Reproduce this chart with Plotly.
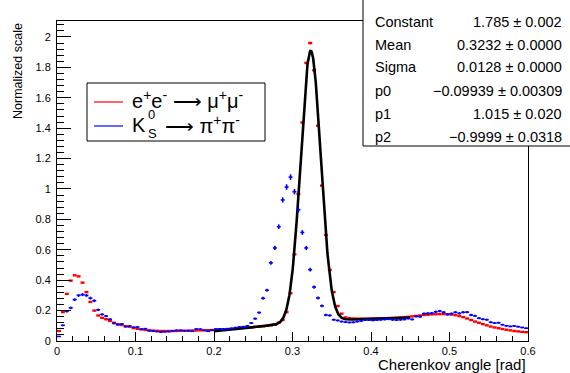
import numpy as np
import plotly.graph_objects as go

# ---- binned data: 120 bins of width 0.005 rad on [0, 0.6] ----
bin_width = 0.005
n_bins = 120
bin_centers = [round(bin_width * (i + 0.5), 4) for i in range(n_bins)]

# e+e- -> mu+mu-  (normalized)
mumu = [
    0.066, 0.19, 0.31, 0.397, 0.432, 0.425, 0.384, 0.322, 0.257, 0.20,
    0.168, 0.152, 0.143, 0.132, 0.12, 0.11, 0.105, 0.097, 0.094, 0.085,
    0.08, 0.076, 0.073, 0.07, 0.068, 0.067, 0.066, 0.066, 0.066, 0.066,
    0.066, 0.067, 0.067, 0.068, 0.069, 0.069, 0.07, 0.07, 0.071, 0.072,
    0.072, 0.074, 0.076, 0.078, 0.08, 0.082, 0.084, 0.086, 0.088, 0.09,
    0.093, 0.095, 0.098, 0.1, 0.103, 0.107, 0.12, 0.138, 0.19, 0.314,
    0.570, 0.967, 1.437, 1.829, 1.960, 1.781, 1.416, 1.022, 0.697, 0.467,
    0.322, 0.23, 0.18, 0.155, 0.15, 0.148, 0.147, 0.147, 0.147, 0.147,
    0.148, 0.148, 0.149, 0.15, 0.151, 0.152, 0.153, 0.155, 0.157, 0.159,
    0.162, 0.165, 0.168, 0.171, 0.173, 0.175, 0.176, 0.177, 0.177, 0.176,
    0.174, 0.17, 0.164, 0.157, 0.148, 0.138, 0.128, 0.12, 0.111, 0.103,
    0.095, 0.089, 0.084, 0.079, 0.074, 0.07, 0.066, 0.063, 0.06, 0.058,
]

# K0S -> pi+pi-  (normalized)
pipi = [
    0.03, 0.103, 0.195, 0.218, 0.272, 0.30, 0.305, 0.30, 0.282, 0.265,
    0.205, 0.175, 0.164, 0.143, 0.116, 0.108, 0.112, 0.095, 0.098, 0.09,
    0.092, 0.078, 0.081, 0.068, 0.066, 0.062, 0.059, 0.061, 0.062, 0.066,
    0.07, 0.07, 0.068, 0.068, 0.064, 0.079, 0.078, 0.07, 0.064, 0.071,
    0.079, 0.08, 0.079, 0.081, 0.083, 0.088, 0.092, 0.094, 0.099, 0.118,
    0.147, 0.187, 0.281, 0.334, 0.514, 0.612, 0.752, 0.928, 1.013, 1.078,
    0.982, 0.863, 0.714, 0.612, 0.469, 0.355, 0.283, 0.231, 0.171, 0.168,
    0.14, 0.135, 0.128, 0.124, 0.122, 0.123, 0.128, 0.132, 0.138, 0.138,
    0.136, 0.138, 0.14, 0.142, 0.144, 0.14, 0.138, 0.14, 0.142, 0.148,
    0.142, 0.162, 0.16, 0.18, 0.182, 0.183, 0.192, 0.197, 0.189, 0.175,
    0.18, 0.189, 0.182, 0.189, 0.19, 0.171, 0.165, 0.15, 0.143, 0.14,
    0.123, 0.118, 0.12, 0.107, 0.1, 0.096, 0.099, 0.094, 0.089, 0.084,
]

# ---- fit result: gaus + pol2 on [0.2, 0.45] ----
fit_names = ["Constant", "Mean", "Sigma", "p0", "p1", "p2"]
fit_values = [1.785, 0.3232, 0.0128, -0.09939, 1.015, -0.9999]
fit_errors = [0.002, 0.0000, 0.0000, 0.00309, 0.020, 0.0318]
fit_decimals = [3, 4, 4, 5, 3, 4]
fit_range = (0.2, 0.45)

# ---- axis ----
x_range = [0, 0.6]
y_range = [0, 2.105]
x_title = "Cherenkov angle [rad]"
y_title = "Normalized scale"

# frame in pixels (570 x 373 canvas)
W, H = 570, 373
L, R, T, B = 57, 528, 21, 341


def fx(p):
    return (p - L) / (R - L)


def fy(p):
    return (B - p) / (B - T)


FONT = "Liberation Sans, Arial, Helvetica, sans-serif"
ARROW = "\u27f6"

fig = go.Figure()

red_err = [0.0022 * np.sqrt(v / 0.1) for v in mumu]
fig.add_trace(go.Scatter(
    x=bin_centers, y=mumu, mode="markers",
    marker=dict(size=1, color="#ff0000"),
    error_x=dict(type="constant", value=bin_width / 2, color="#ff0000",
                 thickness=2.4, width=0),
    error_y=dict(type="data", array=red_err, color="#ff0000",
                 thickness=1, width=0),
    showlegend=False, hoverinfo="skip",
))

C, mu, sig, p0, p1, p2 = fit_values
xf = np.linspace(fit_range[0], fit_range[1], 600)
yf = C * np.exp(-0.5 * ((xf - mu) / sig) ** 2) + p0 + p1 * xf + p2 * xf ** 2
fig.add_trace(go.Scatter(
    x=xf, y=yf, mode="lines", line=dict(color="black", width=2.6),
    showlegend=False, hoverinfo="skip",
))

blue_err = [0.018 * np.sqrt(v / 1.0) for v in pipi]
fig.add_trace(go.Scatter(
    x=bin_centers, y=pipi, mode="markers",
    marker=dict(size=1, color="#0000ff"),
    error_x=dict(type="constant", value=bin_width / 2, color="#0000ff",
                 thickness=1.6, width=0),
    error_y=dict(type="data", array=blue_err, color="#0000ff",
                 thickness=1.6, width=0),
    showlegend=False, hoverinfo="skip",
))

shapes = []
annotations = []

# legend box
shapes.append(dict(type="rect", xref="paper", yref="paper",
                   x0=fx(87), x1=fx(265), y0=fy(141), y1=fy(83),
                   line=dict(color="black", width=1), fillcolor="white",
                   layer="above"))
shapes.append(dict(type="line", xref="paper", yref="paper",
                   x0=fx(94), x1=fx(123), y0=fy(102), y1=fy(102),
                   line=dict(color="#ff0000", width=1.2), layer="above"))
shapes.append(dict(type="line", xref="paper", yref="paper",
                   x0=fx(94), x1=fx(123), y0=fy(126), y1=fy(126),
                   line=dict(color="#0000ff", width=1.2), layer="above"))

leg_font = dict(family=FONT, size=20, color="black")
small_font = dict(family=FONT, size=13, color="black")
annotations.append(dict(
    xref="paper", yref="paper", x=fx(130), y=fy(99), xanchor="left",
    yanchor="middle", showarrow=False, font=leg_font,
    text=f"e<sup>+</sup>e<sup>-</sup> {ARROW} \u03bc<sup>+</sup>\u03bc<sup>-</sup>"))
annotations.append(dict(
    xref="paper", yref="paper", x=fx(130), y=fy(125), xanchor="left",
    yanchor="middle", showarrow=False, font=leg_font, text="K"))
annotations.append(dict(
    xref="paper", yref="paper", x=fx(146), y=fy(114), xanchor="left",
    yanchor="middle", showarrow=False, font=small_font, text="0"))
annotations.append(dict(
    xref="paper", yref="paper", x=fx(146), y=fy(133), xanchor="left",
    yanchor="middle", showarrow=False, font=small_font, text="S"))
annotations.append(dict(
    xref="paper", yref="paper", x=fx(163), y=fy(125), xanchor="left",
    yanchor="middle", showarrow=False, font=leg_font,
    text=f"{ARROW} \u03c0<sup>+</sup>\u03c0<sup>-</sup>"))

# fit statistics box
shapes.append(dict(type="rect", xref="paper", yref="paper",
                   x0=fx(363), x1=fx(W + 5), y0=fy(146), y1=fy(-5),
                   line=dict(color="black", width=1), fillcolor="white",
                   layer="above"))
stat_font = dict(family=FONT, size=14.5, color="black")
row_y = [21.5, 44.5, 67.5, 90.5, 113.5, 136.5]
for name, val, err, dec, yy in zip(fit_names, fit_values, fit_errors,
                                   fit_decimals, row_y):
    txt = f"{val:.{dec}f} \u00b1 {err:.{dec}f}".replace("-", "\u2212")
    annotations.append(dict(xref="paper", yref="paper", x=fx(373), y=fy(yy),
                            xanchor="left", yanchor="middle", showarrow=False,
                            font=stat_font, text=name))
    annotations.append(dict(xref="paper", yref="paper", x=fx(564), y=fy(yy),
                            xanchor="right", yanchor="middle", showarrow=False,
                            font=stat_font, text=txt))

# axis titles
annotations.append(dict(xref="paper", yref="paper", x=fx(528), y=fy(364),
                        xanchor="right", yanchor="middle", showarrow=False,
                        font=dict(family=FONT, size=15, color="black"),
                        text=x_title))
annotations.append(dict(xref="paper", yref="paper", x=fx(18), y=fy(21),
                        xanchor="center", yanchor="top", showarrow=False,
                        textangle=-90,
                        font=dict(family=FONT, size=12.5, color="black"),
                        text=y_title))

axis_common = dict(showline=True, linecolor="black", linewidth=1, mirror=True,
                   ticks="inside", tickcolor="black", tickwidth=1,
                   showgrid=False, zeroline=False,
                   tickfont=dict(family=FONT, size=11, color="black"))

fig.update_layout(
    width=W, height=H,
    margin=dict(l=L, r=W - R, t=T, b=H - B, pad=0),
    paper_bgcolor="white", plot_bgcolor="white",
    xaxis=dict(range=x_range, dtick=0.1, tick0=0, ticklen=9,
               minor=dict(dtick=0.02, tick0=0, ticks="inside", ticklen=5,
                          tickcolor="black"),
               **axis_common),
    yaxis=dict(range=y_range, dtick=0.2, tick0=0, ticklen=14,
               minor=dict(dtick=0.04, tick0=0, ticks="inside", ticklen=7,
                          tickcolor="black"),
               ticklabelstandoff=3,
               **axis_common),
    shapes=shapes, annotations=annotations,
)

fig.write_html("out.html")
